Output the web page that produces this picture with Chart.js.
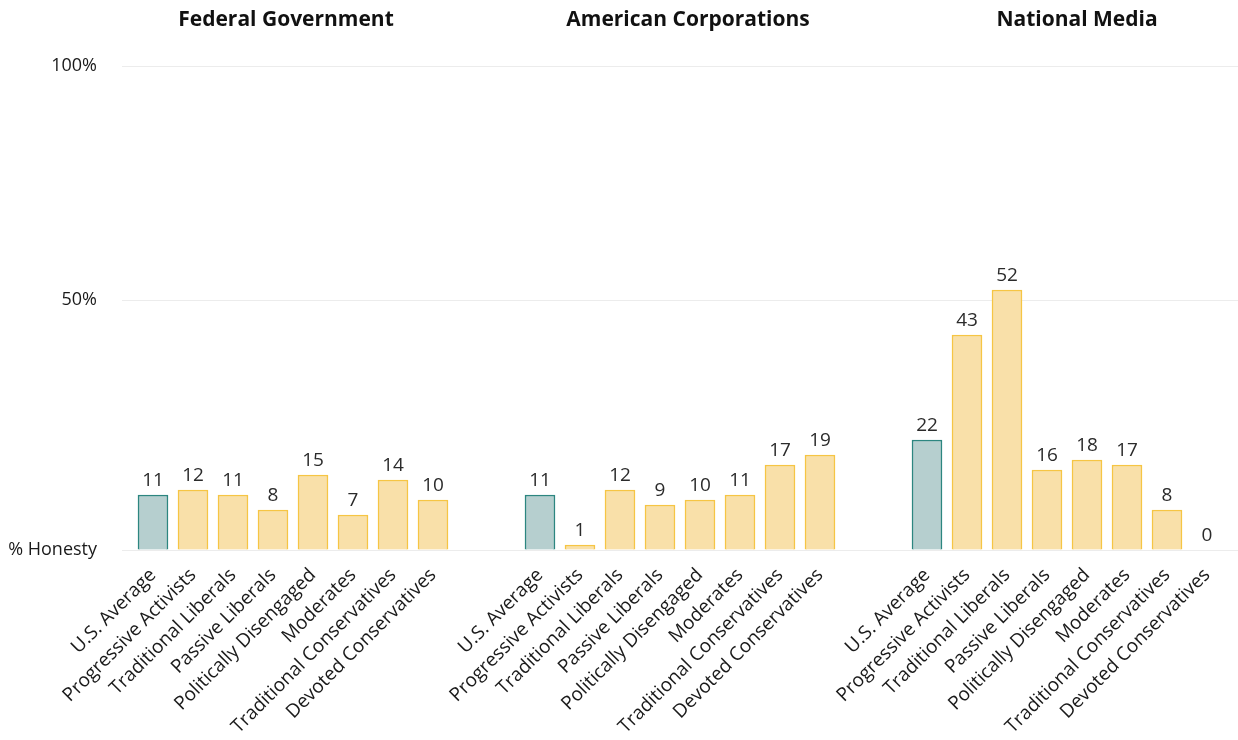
<!DOCTYPE html>
<html>
<head>
<meta charset="utf-8">
<title>Perceived Honesty by Group</title>
<script src="https://cdn.jsdelivr.net/npm/chart.js@4.4.1/dist/chart.umd.min.js"></script>
<style>
  html, body { margin: 0; padding: 0; background: #ffffff; }
  #wrap { width: 1238px; height: 740px; position: relative; }
</style>
</head>
<body>
<div id="wrap"><canvas id="chart" width="1238" height="740"></canvas></div>
<script>
// Panels and the groups shown in each one
const panels = ['Federal Government', 'American Corporations', 'National Media'];
const groups = [
  'U.S. Average', 'Progressive Activists', 'Traditional Liberals', 'Passive Liberals',
  'Politically Disengaged', 'Moderates', 'Traditional Conservatives', 'Devoted Conservatives'
];

// % rating each institution as honest
const federalGovernment = [11, 12, 11, 8, 15, 7, 14, 10];
const americanCorporations = [11, 1, 12, 9, 10, 11, 17, 19];
const nationalMedia = [22, 43, 52, 16, 18, 17, 8, 0];

// Y axis: the top gridline carries the "100%" label
const yTickValues = [0, 50, 96.8];
const yTickLabels = ['% Honesty', '50%', '100%'];

// Horizontal layout in bar slots: empty slots between panels and margin at the ends
const panelGap = 2.675;
const edgeMargin = 0.775;
// Small horizontal nudge (px) of each panel title
const titleShift = [-7, 8, 10];

const FONT = "'Open Sans', sans-serif";
const panelValues = [federalGovernment, americanCorporations, nationalMedia];
const panelStep = groups.length - 1 + panelGap;

const points = [];
const tickLabels = [];
panelValues.forEach((vals, p) => {
  vals.forEach((v, i) => {
    points.push({ x: p * panelStep + i, y: v, first: i === 0 });
    tickLabels.push(groups[i]);
  });
});

const fillColors = points.map(pt => pt.first ? '#b6cfcf' : '#f9e0a9');
const borderColors = points.map(pt => pt.first ? '#2c8680' : '#f6c544');

const panelTitles = {
  id: 'panelTitles',
  afterDraw(chart) {
    const { ctx, scales: { x } } = chart;
    ctx.save();
    ctx.font = "bold 21px " + FONT;
    ctx.fillStyle = '#111111';
    ctx.textAlign = 'center';
    ctx.textBaseline = 'middle';
    panels.forEach((name, p) => {
      const cx = x.getPixelForValue(p * panelStep + (groups.length - 1) / 2) + titleShift[p];
      ctx.fillText(name, cx, 20);
    });
    ctx.restore();
  }
};

const valueLabels = {
  id: 'valueLabels',
  afterDatasetsDraw(chart) {
    const { ctx } = chart;
    const meta = chart.getDatasetMeta(0);
    ctx.save();
    ctx.font = "19px " + FONT;
    ctx.fillStyle = '#2b2b2b';
    ctx.textAlign = 'center';
    ctx.textBaseline = 'bottom';
    meta.data.forEach((bar, i) => {
      ctx.fillText(String(points[i].y), bar.x, bar.y - 5);
    });
    ctx.restore();
  }
};

new Chart(document.getElementById('chart'), {
  type: 'bar',
  data: {
    datasets: [{
      data: points,
      backgroundColor: fillColors,
      borderColor: borderColors,
      borderWidth: 1.5,
      barThickness: 30
    }]
  },
  options: {
    responsive: false,
    animation: false,
    layout: { padding: { top: 66, right: 0, bottom: 0, left: 0 } },
    plugins: { legend: { display: false }, tooltip: { enabled: false } },
    scales: {
      x: {
        type: 'linear',
        offset: false,
        min: -edgeMargin,
        max: (panels.length - 1) * panelStep + groups.length - 1 + edgeMargin,
        grid: { display: false },
        border: { display: false },
        afterBuildTicks(scale) {
          scale.ticks = points.map(pt => ({ value: pt.x }));
        },
        afterFit(scale) { scale.height = 190; },
        ticks: {
          autoSkip: false,
          minRotation: 45,
          maxRotation: 45,
          padding: 6,
          color: '#1a1a1a',
          font: { family: FONT, size: 19 },
          callback: (value, index) => tickLabels[index]
        }
      },
      y: {
        min: 0,
        max: yTickValues[yTickValues.length - 1],
        afterBuildTicks(scale) {
          scale.ticks = yTickValues.map(v => ({ value: v }));
        },
        afterFit(scale) { scale.width = 122; },
        grid: { color: '#ececec', lineWidth: 1, drawTicks: false },
        border: { display: false },
        ticks: {
          padding: 25,
          color: '#1a1a1a',
          font: { family: FONT, size: 18 },
          callback: (value, index) => yTickLabels[index]
        }
      }
    }
  },
  plugins: [panelTitles, valueLabels]
});
</script>
</body>
</html>
